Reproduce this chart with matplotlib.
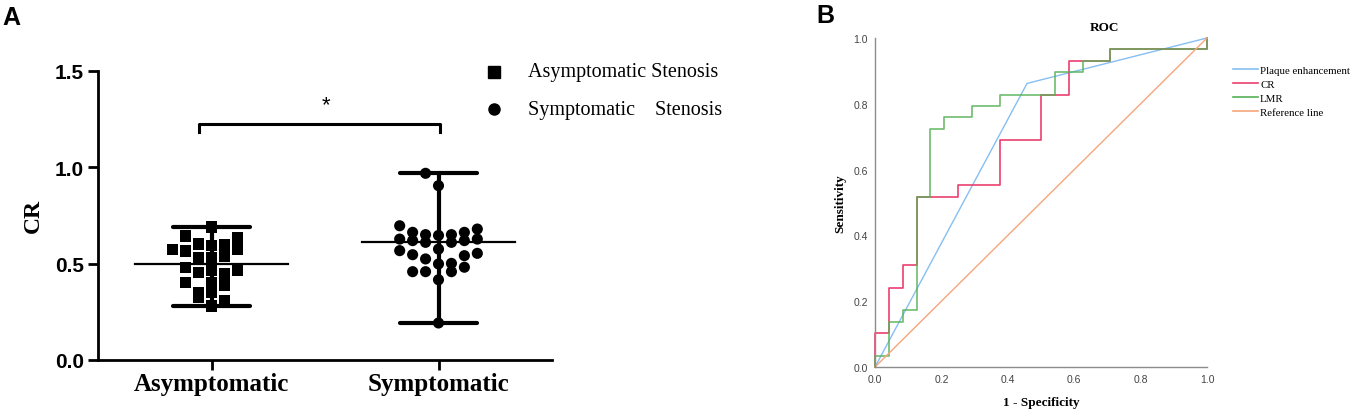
import matplotlib
matplotlib.use("Agg")
import matplotlib.pyplot as plt
from matplotlib.lines import Line2D
import numpy as np

# ---------------- data ----------------
groups = ["Asymptomatic", "Symptomatic"]
asym_values = [0.644, 0.572, 0.564, 0.601, 0.594, 0.598, 0.636, 0.576, 0.532, 0.532,
               0.540, 0.480, 0.455, 0.463, 0.446, 0.463, 0.403, 0.403, 0.385, 0.351,
               0.325, 0.351, 0.307, 0.280, 0.690]
sym_values = [0.968, 0.904, 0.696, 0.662, 0.650, 0.646, 0.650, 0.662, 0.679, 0.627,
              0.619, 0.610, 0.610, 0.619, 0.627, 0.575, 0.567, 0.553, 0.546, 0.541,
              0.524, 0.498, 0.501, 0.458, 0.481, 0.458, 0.458, 0.416, 0.192]
group_centers = [0.50, 0.61]
legend_a = ["Asymptomatic Stenosis", "Symptomatic    Stenosis"]

# column slots (layout of the dot plot)
asym_slots = [-2, -3, -2, -1, 0, 1, 2, 2, -1, 0, 1, -2, -1, 0, 1, 2, -2, 0, 1, -1, -1, 0, 1, 0, 0]
sym_slots = [-1, 0, -3, -2, -1, 0, 1, 2, 3, -3, -2, -1, 1, 2, 3, 0, -3, 3, -2, 2, -1, 0, 1, 1, 2, -2, -1, 0, 0]

# ROC operating points
plaque_fpr = [0.000, 0.458, 1.000]
plaque_tpr = [0.000, 0.862, 1.000]
cr_fpr = [0.000, 0.042, 0.083, 0.125, 0.250, 0.375, 0.500, 0.583, 0.708, 1.000, 1.000]
cr_tpr = [0.000, 0.103, 0.241, 0.310, 0.517, 0.552, 0.690, 0.828, 0.931, 0.966, 1.000]
lmr_fpr = [0.000, 0.042, 0.083, 0.125, 0.167, 0.208, 0.292, 0.375, 0.542, 0.625, 0.708, 1.000, 1.000]
lmr_tpr = [0.000, 0.034, 0.138, 0.172, 0.517, 0.724, 0.759, 0.793, 0.828, 0.897, 0.931, 0.966, 1.000]
ref_fpr = [0.0, 1.0]
ref_tpr = [0.0, 1.0]
roc_labels = ["Plaque enhancement", "CR", "LMR", "Reference line"]

# ---------------- figure ----------------
W, H = 1354, 410
fig = plt.figure(figsize=(W / 100, H / 100), dpi=100)

def fx(px):
    return px / W

def fy(py):
    return 1 - py / H

SERIF = "Liberation Serif"
SANS = "Liberation Sans"

# ---------- Panel A ----------
axA = fig.add_axes([fx(98), fy(361), fx(552) - fx(98), fy(71.7) - fy(361)])
axA.set_xlim(-0.5, 1.5)
axA.set_ylim(0, 1.5)
for s in ["top", "right"]:
    axA.spines[s].set_visible(False)
for s in ["left", "bottom"]:
    axA.spines[s].set_linewidth(2.0)
axA.tick_params(axis="both", width=2.0, length=7, direction="out")
axA.set_yticks([0.0, 0.5, 1.0, 1.5])
axA.set_yticklabels(["0.0", "0.5", "1.0", "1.5"], fontsize=15, fontweight="bold", family=SANS)
axA.set_xticks([0, 1])
axA.set_xticklabels(groups, fontsize=18, fontweight="bold", family=SERIF)
axA.tick_params(axis="x", pad=2)
axA.tick_params(axis="y", pad=3)
axA.set_ylabel("CR", fontsize=17, fontweight="bold", family=SERIF, labelpad=8)

slot_w = 0.057
for gi, (vals, slots, marker) in enumerate([(asym_values, asym_slots, "s"),
                                             (sym_values, sym_slots, "o")]):
    vals = np.array(vals)
    xs = gi + np.array(slots) * slot_w
    # whiskers min-max
    axA.plot([gi, gi], [vals.min(), vals.max()], color="black", lw=3, solid_capstyle="butt", zorder=2)
    axA.plot([gi - 0.17, gi + 0.17], [vals.min()] * 2, color="black", lw=3, solid_capstyle="round", zorder=2)
    axA.plot([gi - 0.17, gi + 0.17], [vals.max()] * 2, color="black", lw=3, solid_capstyle="round", zorder=2)
    axA.plot([gi - 0.335, gi + 0.335], [group_centers[gi]] * 2, color="black", lw=1.6, zorder=2)
    axA.scatter(xs, vals, marker=marker, s=68 if marker == "s" else 64, color="black",
                edgecolors="none", zorder=3)

# significance bracket
axA.plot([-0.056, -0.056, 1.0075, 1.0075], [1.182, 1.223, 1.223, 1.182], color="black",
         lw=2.2, clip_on=False)
axA.text(0.503, 1.325, "*", ha="center", va="center", fontsize=16, family=SANS)

# legend A (manual)
fig.add_artist(Line2D([fx(494)], [fy(72.7)], marker="s", markersize=8, color="black", linestyle="none"))
fig.add_artist(Line2D([fx(494)], [fy(110)], marker="o", markersize=8, color="black", linestyle="none"))
fig.text(fx(528), fy(72.7), legend_a[0], fontsize=14.5, family=SERIF, va="center", ha="left")
fig.text(fx(528), fy(110), legend_a[1], fontsize=14.5, family=SERIF, va="center", ha="left")

fig.text(fx(2), fy(18), "A", fontsize=18, fontweight="bold", family=SANS, va="center", ha="left")

# ---------- Panel B ----------
axB = fig.add_axes([fx(875), fy(368), fx(1207) - fx(875), fy(39) - fy(368)])
axB.set_xlim(0, 1)
axB.set_ylim(0, 1)
for s in ["top", "right"]:
    axB.spines[s].set_visible(False)
for s in ["left", "bottom"]:
    axB.spines[s].set_color("#8c8c8c")
    axB.spines[s].set_linewidth(1.0)
ticks = [0.0, 0.2, 0.4, 0.6, 0.8, 1.0]
axB.set_xticks(ticks)
axB.set_yticks(ticks)
axB.set_xticklabels([f"{t:.1f}" for t in ticks], fontsize=7.5, family=SANS, color="#444444")
axB.set_yticklabels([f"{t:.1f}" for t in ticks], fontsize=7.5, family=SANS, color="#444444")
axB.tick_params(axis="both", length=0, pad=5)
axB.set_xlabel("1 - Specificity", fontsize=9.5, fontweight="bold", family=SERIF, labelpad=9)
axB.set_ylabel("Sensitivity", fontsize=9.5, fontweight="bold", family=SERIF, labelpad=5)
fig.text(fx(1104), fy(28), "ROC", fontsize=9.5, fontweight="bold", family=SERIF, ha="center", va="center")

c_blue = "#86bff2"
c_red = "#ea3f6e"
c_green = "#55b055"
c_orange = "#f6a57c"

l1, = axB.plot(plaque_fpr, plaque_tpr, color=c_blue, lw=1.0, clip_on=False)
l2, = axB.plot(cr_fpr, cr_tpr, color=c_red, lw=1.2, drawstyle="steps-pre", clip_on=False)
l3, = axB.plot(lmr_fpr, lmr_tpr, color=c_green, lw=1.2, drawstyle="steps-pre", alpha=0.85, clip_on=False)
l4, = axB.plot(ref_fpr, ref_tpr, color=c_orange, lw=1.0, clip_on=False)

leg = fig.legend([l1, l2, l3, l4], roc_labels, loc="upper left",
                 bbox_to_anchor=(fx(1233), fy(66)), frameon=False,
                 prop={"family": SERIF, "size": 7.8}, handlelength=2.3,
                 handletextpad=0.2, labelspacing=0.42, borderpad=0, borderaxespad=0)
for lh in leg.get_lines():
    lh.set_alpha(1.0)
    lh.set_linewidth(1.2)

fig.text(fx(816), fy(16), "B", fontsize=18, fontweight="bold", family=SANS, va="center", ha="left")

fig.savefig("out.png", dpi=100)
